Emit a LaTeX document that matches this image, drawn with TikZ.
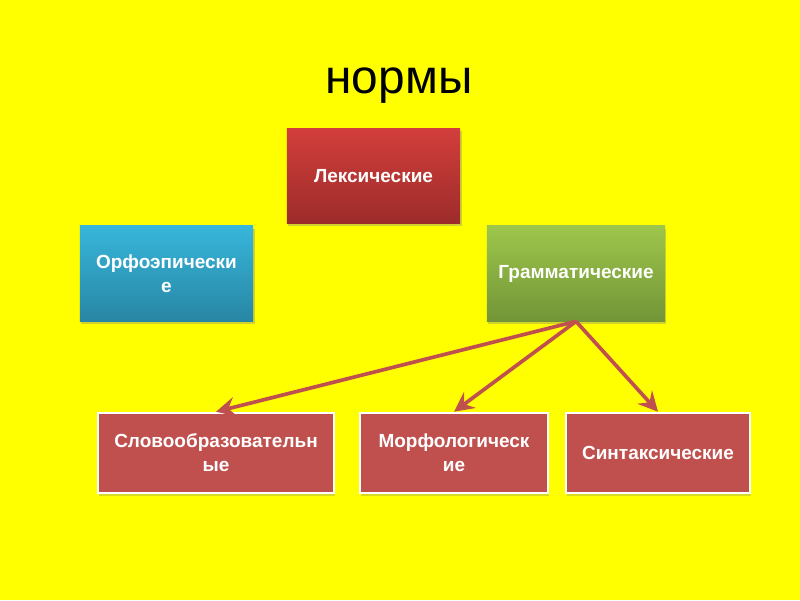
\documentclass[tikz,border=0pt]{standalone}
\usepackage{fontspec}
\setmainfont{Liberation Sans}
\usetikzlibrary{arrows.meta,shadows}

\definecolor{bgyellow}{HTML}{FFFF00}
\definecolor{lexTop}{HTML}{D23E3B}
\definecolor{lexBot}{HTML}{9C2C2A}
\definecolor{orfTop}{HTML}{37B6DA}
\definecolor{orfBot}{HTML}{2886A4}
\definecolor{gramTop}{HTML}{9DC64B}
\definecolor{gramBot}{HTML}{739538}
\definecolor{subRed}{HTML}{C0504D}

\begin{document}
\begin{tikzpicture}[x=0.025cm,y=-0.025cm,
    topbox/.style={minimum width=4.33cm,minimum height=2.38cm,inner sep=0pt,
        align=center,text=white,font=\fontsize{13.5}{17}\selectfont\bfseries,
        drop shadow={shadow xshift=1pt,shadow yshift=-2pt,opacity=0.35}},
    subbox/.style={draw=white,line width=1.8pt,fill=subRed,inner sep=0pt,
        minimum height=2.0cm,align=center,text=white,
        font=\fontsize{13.5}{17}\selectfont\bfseries,
        drop shadow={shadow xshift=1pt,shadow yshift=-2pt,opacity=0.3}},
    link/.style={draw=subRed,line width=2.6pt,-{Stealth[length=14pt,width=14pt,inset=5pt]}}]
    \fill[bgyellow] (0,0) rectangle (800,600);
    \useasboundingbox (0,0) rectangle (800,600);
    \node (title) at (399,86) {\fontsize{34}{38}\selectfont нормы};
    % upper row
    \node[topbox,top color=lexTop,bottom color=lexBot] (lex) at (373.5,176) {Лексические};
    \node[topbox,top color=orfTop,bottom color=orfBot] (orf) at (166.5,273.5) {Орфоэпически\\е};
    \node[topbox,top color=gramTop,bottom color=gramBot,minimum width=4.45cm] (gram) at (576,273.5) {Грамматические};
    % lower row
    \node[subbox,minimum width=5.9cm] (slovo) at (216,453) {Словообразовательн\\ые};
    \node[subbox,minimum width=4.7cm] (morf) at (454,453) {Морфологическ\\ие};
    \node[subbox,minimum width=4.6cm] (sint) at (658,453) {Синтаксические};
    \draw[link] (gram.south) -- (slovo.north);
    \draw[link] (gram.south) -- (morf.north);
    \draw[link] (gram.south) -- (sint.north);
\end{tikzpicture}
\end{document}
